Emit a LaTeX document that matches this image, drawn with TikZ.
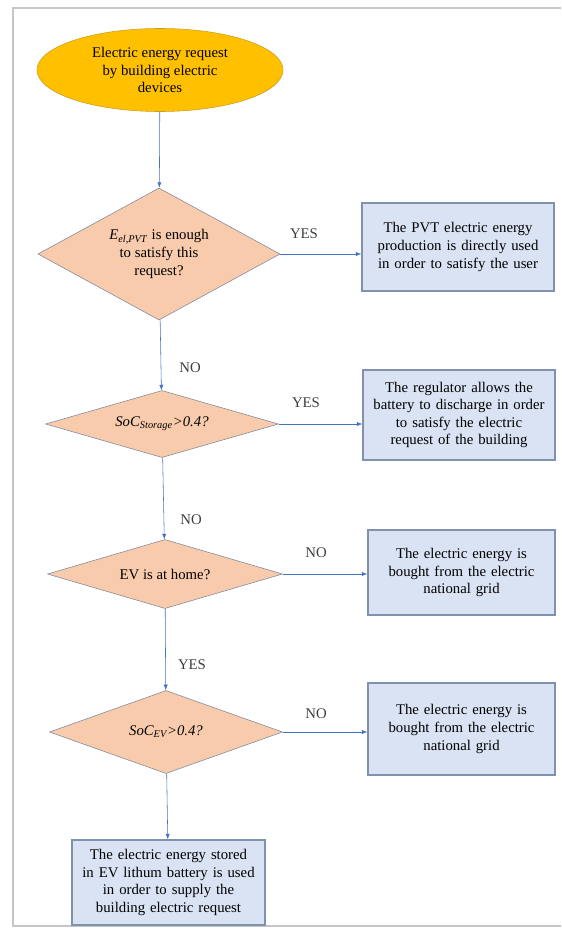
\documentclass[tikz,border=0pt]{standalone}
\usepackage{fontspec}
\setmainfont{Liberation Serif}
\usetikzlibrary{shapes.geometric, arrows.meta, positioning}
\definecolor{requestgold}{RGB}{255,192,0}
\definecolor{requestedge}{RGB}{200,158,40}
\definecolor{checkpeach}{RGB}{248,203,173}
\definecolor{checkedge}{RGB}{128,136,156}
\definecolor{actionblue}{RGB}{218,227,243}
\definecolor{actionedge}{RGB}{128,146,174}
\definecolor{flowblue}{RGB}{68,114,196}
\definecolor{labelgrey}{RGB}{62,62,62}

\begin{document}
\begin{tikzpicture}[x=0.025cm, y=-0.025cm, font=\fontsize{10.5}{12.5}\selectfont,
    request/.style={ellipse, draw=requestedge, fill=requestgold, align=center, inner sep=0pt, minimum width=6.15cm, minimum height=2.075cm},
    check/.style={diamond, draw=checkedge, fill=checkpeach, align=center, inner sep=0pt},
    action/.style={draw=actionedge, fill=actionblue, line width=0.8pt, align=center, inner sep=0pt},
    flow/.style={flowblue, -{Latex[length=4pt, width=3pt]}},
    answer/.style={text=labelgrey}]
        \useasboundingbox (0,0) rectangle (561,932);
        \draw[gray!45, line width=0.8pt] (561,8) -- (13,8) -- (13,926) -- (561,926);

        \node[request] at (160,70) (req) {Electric energy request\\by building electric\\devices};

        \node[check, minimum width=6.05cm, minimum height=3.3cm, aspect=1.83] at (159,254) (pvtcheck) {\textit{E}\textsubscript{\textit{el,PVT}} is enough\\to satisfy this\\request?};
        \node[check, minimum width=5.825cm, minimum height=1.675cm, aspect=3.5] at (162,424) (storcheck) {\textit{SoC\textsubscript{Storage}>0.4?}};
        \node[check, minimum width=5.875cm, minimum height=1.725cm, aspect=3.4] at (165,574) (homecheck) {EV is at home?};
        \node[check, minimum width=5.825cm, minimum height=2.075cm, aspect=2.8] at (166,732) (evcheck) {\textit{SoC\textsubscript{EV}>0.4?}};

        \node[action, text width=4.8cm, minimum height=2.2cm] at (458,247) (pvtuse) {The PVT electric energy\\production is directly used\\in order to satisfy the user};
        \node[action, text width=4.8cm, minimum height=2.25cm] at (459,415) (battuse) {The regulator allows the\\battery to discharge in order\\to satisfy the electric\\request of the building};
        \node[action, text width=4.675cm, minimum height=2.125cm] at (461.5,572.5) (gridbuy) {The electric energy is\\bought from the electric\\national grid};
        \node[action, text width=4.675cm, minimum height=2.3cm] at (461.5,729) (gridbuyev) {The electric energy is\\bought from the electric\\national grid};
        \node[action, text width=4.825cm, minimum height=2.125cm] at (168.5,882.5) (evuse) {The electric energy stored\\in EV lithum battery is used\\in order to supply the\\building electric request};

        \node[answer] at (304,234) (yes1) {YES};
        \node[answer] at (190,368) (no1) {NO};
        \node[answer] at (306,403) (yes2) {YES};
        \node[answer] at (191,520) (no2) {NO};
        \node[answer] at (316,553) (no3) {NO};
        \node[answer] at (192,665) (yes3) {YES};
        \node[answer] at (316,714) (no4) {NO};

        \draw[flow] (req) -- (pvtcheck);
        \draw[flow] (pvtcheck.east) -- (pvtcheck.east -| pvtuse.west);
        \draw[flow] (pvtcheck) -- (storcheck);
        \draw[flow] (storcheck.east) -- (storcheck.east -| battuse.west);
        \draw[flow] (storcheck) -- (homecheck);
        \draw[flow] (homecheck.east) -- (homecheck.east -| gridbuy.west);
        \draw[flow] (homecheck) -- (evcheck);
        \draw[flow] (evcheck.east) -- (evcheck.east -| gridbuyev.west);
        \draw[flow] (evcheck) -- (evuse);
    \end{tikzpicture}
\end{document}
